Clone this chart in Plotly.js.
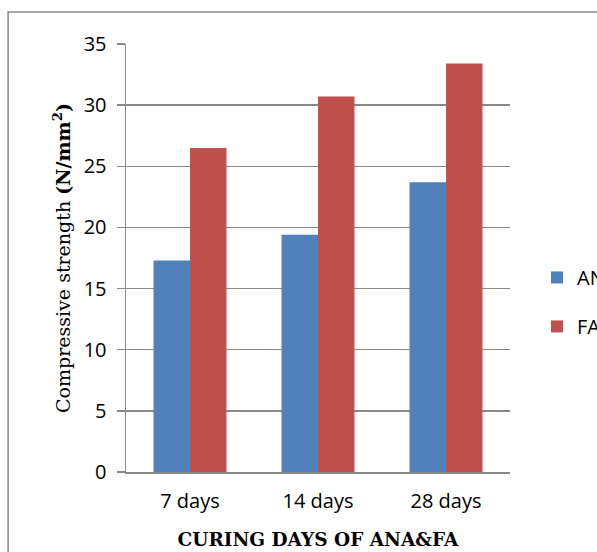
<!DOCTYPE html>
<html>
<head>
<meta charset="utf-8">
<script src="https://cdn.plot.ly/plotly-3.0.1.min.js"></script>
<style>html,body{margin:0;padding:0;background:#fff;}#chart{width:597px;height:552px;}</style>
</head>
<body>
<div id="chart"></div>
<script>
const categories = ["7 days", "14 days", "28 days"];
const anaValues = [17.3, 19.4, 23.7];
const faValues = [26.5, 30.7, 33.4];
const seriesNames = ["ANA", "FA"];
const yTicks = [0, 5, 10, 15, 20, 25, 30, 35];

const tickFont = {family: "Open Sans, Liberation Sans, sans-serif", size: 20, color: "#000"};

const traces = [
  {type: "bar", name: seriesNames[0], x: categories, y: anaValues,
   marker: {color: "#4F81BD"}, legendgroup: "a", hoverinfo: "skip"},
  {type: "bar", name: seriesNames[1], x: categories, y: faValues,
   marker: {color: "#C0504D"}, legendgroup: "b", hoverinfo: "skip"}
];

const layout = {
  width: 597, height: 552,
  margin: {l: 126, r: 87, t: 44, b: 80, pad: 0, autoexpand: false},
  paper_bgcolor: "#fff", plot_bgcolor: "#fff",
  barmode: "group", bargap: 0.43, bargroupgap: 0,
  showlegend: true,
  legend: {xref: "container", yref: "container", x: 0.8995, y: 0.453, xanchor: "left", yanchor: "middle",
           font: {family: "Open Sans, Liberation Sans, sans-serif", size: 20, color: "#000"},
           traceorder: "grouped", tracegroupgap: 20, bgcolor: "rgba(0,0,0,0)"},
  xaxis: {
    type: "category", showgrid: false, showline: true, linecolor: "#888", linewidth: 1.5,
    ticks: "", tickfont: tickFont, ticklabelstandoff: 10,
    title: {text: "<b>CURING DAYS OF ANA&amp;FA</b>", font: {family: "DejaVu Serif, serif", size: 18.5, color: "#000"}, standoff: 20}
  },
  yaxis: {
    range: [0, 35], tickvals: yTicks, showgrid: true, gridcolor: "#888", gridwidth: 1.5,
    showline: true, linecolor: "#888", linewidth: 1.5, zeroline: false,
    ticks: "outside", ticklen: 8, tickcolor: "#888", tickwidth: 1.5,
    tickfont: tickFont, ticklabelstandoff: 6,
    title: {text: "Compressive strength <b>(N/mm<sup>2</sup>)</b>", font: {family: "DejaVu Serif, serif", size: 19, color: "#000"}, standoff: 8}
  },
  shapes: [
    {type: "rect", xref: "paper", yref: "paper", x0: -0.307, x1: 1.6, y0: -0.3, y1: 1.0748,
     line: {color: "#888", width: 1.5}, fillcolor: "rgba(0,0,0,0)", layer: "below"}
  ]
};

Plotly.newPlot("chart", traces, layout, {displayModeBar: false, staticPlot: true});
</script>
</body>
</html>
